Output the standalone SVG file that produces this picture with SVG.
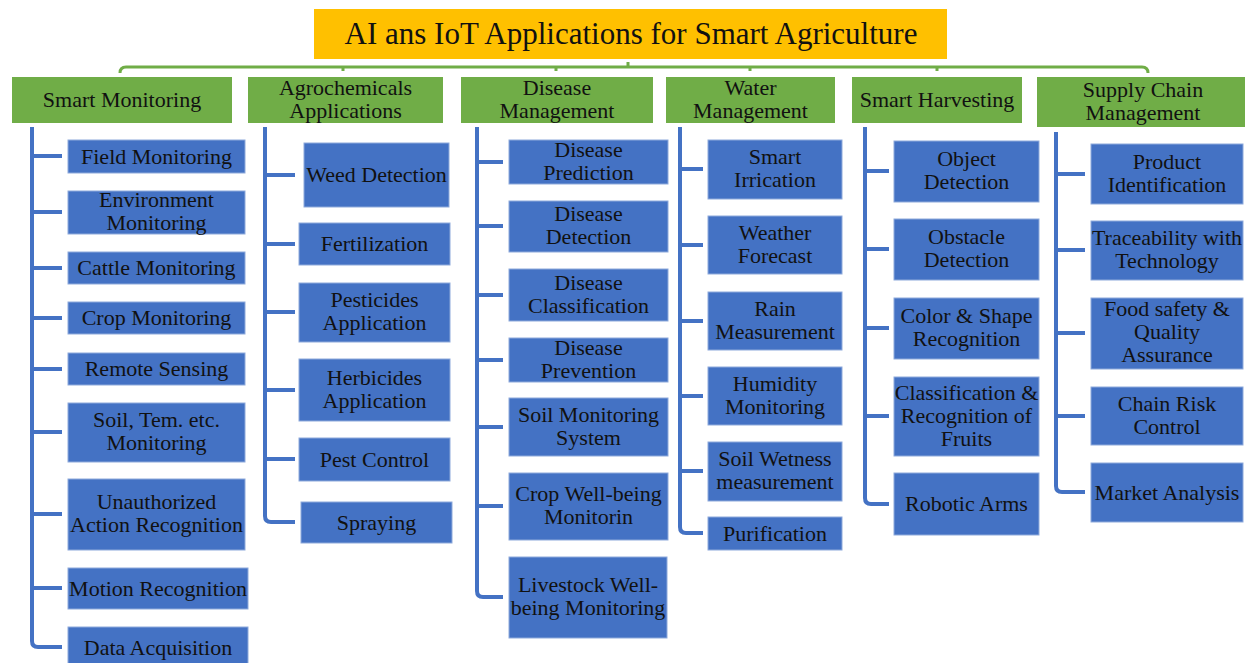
<svg xmlns="http://www.w3.org/2000/svg" width="1245" height="663" viewBox="0 0 1245 663">
<style>
text{font-family:'Liberation Serif','Times New Roman','DejaVu Serif',serif;font-size:22px;fill:#111;text-anchor:middle}
.title{font-size:31px}
.hdr{fill:#70AD47}
.box{fill:#4472C4;stroke:#8eaadb;stroke-width:1}
.conn{fill:none;stroke:#4472C4;stroke-width:4;stroke-linecap:butt}
.br{fill:none;stroke:#70AD47;stroke-width:3;stroke-linejoin:round}
</style>
<rect width="1245" height="663" fill="#fff"/>
<g id="connectors">
<path class="br" d="M120,73 Q120,67 126,67 H1142 Q1148,67 1148,73 M628,67 V62 M343,67 V71 M556,67 V71 M750,67 V71 M937,67 V71"/>
<path class="conn" d="M32,127 V641 Q32,647 38,647 H62 M32,156 H62 M32,212 H62 M32,268 H62 M32,318 H62 M32,369 H62 M32,432 H62 M32,514 H62 M32,588 H62"/>
<path class="conn" d="M265,127 V516 Q265,522 271,522 H295 M265,175 H295 M265,244 H295 M265,312 H295 M265,390 H295 M265,459 H295"/>
<path class="conn" d="M477,127 V591 Q477,597 483,597 H503 M477,162 H503 M477,226 H503 M477,295 H503 M477,360 H503 M477,427 H503 M477,506 H503"/>
<path class="conn" d="M680,127 V527 Q680,533 686,533 H703 M680,169 H703 M680,245 H703 M680,321 H703 M680,396 H703 M680,471 H703"/>
<path class="conn" d="M865,127 V498 Q865,504 871,504 H889 M865,171 H889 M865,249 H889 M865,328 H889 M865,416 H889"/>
<path class="conn" d="M1056,132 V486 Q1056,492 1062,492 H1085 M1056,174 H1085 M1056,250 H1085 M1056,333 H1085 M1056,416 H1085"/>
</g>
<g font-family="'Liberation Serif','Times New Roman','DejaVu Serif',serif">
<g id="title"><rect x="314" y="9" width="633" height="50" fill="#FFC000"/><text class="title" x="631" y="44">AI ans IoT Applications for Smart Agriculture</text></g>
<g id="h-monitoring"><rect class="hdr" x="12" y="77" width="220" height="46"/><text x="122" y="107">Smart Monitoring</text></g>
<g id="h-agro"><rect class="hdr" x="248" y="77" width="195" height="46"/><text x="345.5" y="95">Agrochemicals<tspan x="345.5" dy="23">Applications</tspan></text></g>
<g id="h-disease"><rect class="hdr" x="461" y="77" width="192" height="46"/><text x="557" y="95">Disease<tspan x="557" dy="23">Management</tspan></text></g>
<g id="h-water"><rect class="hdr" x="666" y="77" width="169" height="46"/><text x="750.5" y="95">Water<tspan x="750.5" dy="23">Management</tspan></text></g>
<g id="h-harvest"><rect class="hdr" x="852" y="77" width="170" height="46"/><text x="937" y="107">Smart Harvesting</text></g>
<g id="h-supply"><rect class="hdr" x="1037" y="77" width="208" height="50"/><text x="1143" y="97">Supply Chain<tspan x="1143" dy="23">Management</tspan></text></g>

<g id="n-field"><rect class="box" x="68" y="140" width="177" height="33"/><text x="156.5" y="163.5">Field Monitoring</text></g>
<g id="n-env"><rect class="box" x="68" y="191" width="177" height="43"/><text x="156.5" y="207">Environment<tspan x="156.5" dy="23">Monitoring</tspan></text></g>
<g id="n-cattle"><rect class="box" x="68" y="252" width="177" height="32"/><text x="156.5" y="275">Cattle Monitoring</text></g>
<g id="n-crop"><rect class="box" x="68" y="302" width="177" height="32"/><text x="156.5" y="325">Crop Monitoring</text></g>
<g id="n-remote"><rect class="box" x="68" y="353" width="177" height="32"/><text x="156.5" y="376">Remote Sensing</text></g>
<g id="n-soiltem"><rect class="box" x="68" y="403" width="177" height="59"/><text x="156.5" y="427">Soil, Tem. etc.<tspan x="156.5" dy="23">Monitoring</tspan></text></g>
<g id="n-unauth"><rect class="box" x="68" y="479" width="177" height="71"/><text x="156.5" y="509">Unauthorized<tspan x="156.5" dy="23">Action Recognition</tspan></text></g>
<g id="n-motion"><rect class="box" x="68" y="568" width="180" height="41"/><text x="158" y="595.5">Motion Recognition</text></g>
<g id="n-data"><rect class="box" x="68" y="627" width="180" height="42"/><text x="158" y="655">Data Acquisition</text></g>

<g id="n-weed"><rect class="box" x="304" y="143" width="145" height="64"/><text x="376.5" y="182">Weed Detection</text></g>
<g id="n-fert"><rect class="box" x="299" y="223" width="151" height="42"/><text x="374.5" y="251">Fertilization</text></g>
<g id="n-pesticides"><rect class="box" x="299" y="283" width="151" height="59"/><text x="374.5" y="307">Pesticides<tspan x="374.5" dy="23">Application</tspan></text></g>
<g id="n-herbicides"><rect class="box" x="299" y="359" width="151" height="62"/><text x="374.5" y="385">Herbicides<tspan x="374.5" dy="23">Application</tspan></text></g>
<g id="n-pestcontrol"><rect class="box" x="299" y="438" width="151" height="43"/><text x="374.5" y="466.5">Pest Control</text></g>
<g id="n-spraying"><rect class="box" x="301" y="502" width="151" height="41"/><text x="376.5" y="529.5">Spraying</text></g>

<g id="n-dpred"><rect class="box" x="509" y="140" width="159" height="44"/><text x="588.5" y="157">Disease<tspan x="588.5" dy="23">Prediction</tspan></text></g>
<g id="n-ddet"><rect class="box" x="509" y="201" width="159" height="51"/><text x="588.5" y="221">Disease<tspan x="588.5" dy="23">Detection</tspan></text></g>
<g id="n-dclass"><rect class="box" x="509" y="269" width="159" height="52"/><text x="588.5" y="290">Disease<tspan x="588.5" dy="23">Classification</tspan></text></g>
<g id="n-dprev"><rect class="box" x="509" y="338" width="159" height="44"/><text x="588.5" y="355">Disease<tspan x="588.5" dy="23">Prevention</tspan></text></g>
<g id="n-soilsys"><rect class="box" x="509" y="398" width="159" height="58"/><text x="588.5" y="422">Soil Monitoring<tspan x="588.5" dy="23">System</tspan></text></g>
<g id="n-cropwell"><rect class="box" x="509" y="473" width="159" height="67"/><text x="588.5" y="501">Crop Well-being<tspan x="588.5" dy="23">Monitorin</tspan></text></g>
<g id="n-livestock"><rect class="box" x="509" y="557" width="158" height="81"/><text x="588" y="592">Livestock Well-<tspan x="588" dy="23">being Monitoring</tspan></text></g>

<g id="n-irr"><rect class="box" x="708" y="140" width="134" height="59"/><text x="775" y="164">Smart<tspan x="775" dy="23">Irrication</tspan></text></g>
<g id="n-weather"><rect class="box" x="708" y="216" width="134" height="58"/><text x="775" y="240">Weather<tspan x="775" dy="23">Forecast</tspan></text></g>
<g id="n-rain"><rect class="box" x="708" y="292" width="134" height="58"/><text x="775" y="316">Rain<tspan x="775" dy="23">Measurement</tspan></text></g>
<g id="n-humid"><rect class="box" x="708" y="367" width="134" height="58"/><text x="775" y="391">Humidity<tspan x="775" dy="23">Monitoring</tspan></text></g>
<g id="n-wet"><rect class="box" x="708" y="442" width="134" height="59"/><text x="775" y="466">Soil Wetness<tspan x="775" dy="23">measurement</tspan></text></g>
<g id="n-purif"><rect class="box" x="708" y="517" width="134" height="33"/><text x="775" y="540.5">Purification</text></g>

<g id="n-object"><rect class="box" x="894" y="141" width="145" height="61"/><text x="966.5" y="166">Object<tspan x="966.5" dy="23">Detection</tspan></text></g>
<g id="n-obstacle"><rect class="box" x="894" y="219" width="145" height="61"/><text x="966.5" y="244">Obstacle<tspan x="966.5" dy="23">Detection</tspan></text></g>
<g id="n-color"><rect class="box" x="894" y="298" width="145" height="61"/><text x="966.5" y="323">Color &amp; Shape<tspan x="966.5" dy="23">Recognition</tspan></text></g>
<g id="n-fruits"><rect class="box" x="894" y="377" width="145" height="79"/><text x="966.5" y="400">Classification &amp;<tspan x="966.5" dy="23">Recognition of</tspan><tspan x="966.5" dy="23">Fruits</tspan></text></g>
<g id="n-robotic"><rect class="box" x="894" y="473" width="145" height="62"/><text x="966.5" y="511">Robotic Arms</text></g>

<g id="n-product"><rect class="box" x="1091" y="144" width="152" height="60"/><text x="1167" y="169">Product<tspan x="1167" dy="23">Identification</tspan></text></g>
<g id="n-trace"><rect class="box" x="1091" y="221" width="152" height="59"/><text x="1167" y="245">Traceability with<tspan x="1167" dy="23">Technology</tspan></text></g>
<g id="n-food"><rect class="box" x="1091" y="298" width="152" height="71"/><text x="1167" y="316">Food safety &amp;<tspan x="1167" dy="23">Quality</tspan><tspan x="1167" dy="23">Assurance</tspan></text></g>
<g id="n-risk"><rect class="box" x="1091" y="387" width="152" height="58"/><text x="1167" y="411">Chain Risk<tspan x="1167" dy="23">Control</tspan></text></g>
<g id="n-market"><rect class="box" x="1091" y="463" width="152" height="59"/><text x="1167" y="500">Market Analysis</text></g>
</g>
</svg>
